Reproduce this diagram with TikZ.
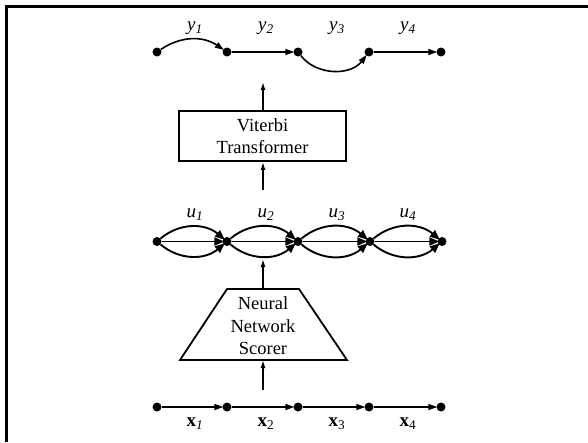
\documentclass[tikz,border=0pt]{standalone}
\usepackage{fontspec}
\setmainfont{Liberation Serif}
\usetikzlibrary{arrows.meta}
\tikzset{
  dot/.style={circle,fill=black,inner sep=0pt,minimum size=9pt},
  harr/.style={line width=1.6pt,-{Triangle[length=9pt,width=6pt]},shorten >=-1pt},
  uarr/.style={line width=1.9pt,-{Triangle[length=10pt,width=8pt]},shorten >=-2pt},
  varr/.style={line width=1.5pt,-{Latex[length=8pt,width=5pt]}},
  lbl/.style={font=\fontsize{19}{22}\selectfont,inner sep=0pt},
  boxtext/.style={font=\fontsize{18.5}{22.5}\selectfont,align=center,inner sep=0pt}
}
\begin{document}
\begin{tikzpicture}[x=1pt,y=1pt]
\useasboundingbox (0,0) rectangle (588,-442);
% frame
\draw[line width=3pt] (6.5,-442) -- (6.5,-6.5) -- (588,-6.5);

% output sequence y
\foreach \i/\x in {1/157,2/227,3/298,4/369,5/441}
  \node[dot] (t\i) at (\x,-52) {};
\draw[harr] (t1) to[bend left=34] (t2);
\draw[harr] (t2) -- (t3);
\draw[harr] (t3) to[bend right=52] (t4);
\draw[harr] (t4) -- (t5);
\node[lbl] (y1) at (195,-28) {\textit{y}\textsubscript{\textit{1}}};
\node[lbl] (y2) at (266,-28) {\textit{y}\textsubscript{\textit{2}}};
\node[lbl] (y3) at (337,-28) {\textit{y}\textsubscript{\textit{3}}};
\node[lbl] (y4) at (408,-28) {\textit{y}\textsubscript{\textit{4}}};

% Viterbi transformer
\node[draw,line width=1.8pt,minimum width=167pt,minimum height=50pt,inner sep=0pt] (vt) at (262.5,-136) {};
\node[boxtext] (vtext) at (262.5,-136) {Viterbi\\Transformer};
\coordinate (vtop) at (263,-82);
\coordinate (vbot) at (263,-190);
\draw[varr] (vt.north -| vtop) -- (vtop);
\draw[varr] (vbot) -- (vt.south -| vbot);

% scores u
\foreach \i/\x in {1/157,2/227,3/298,4/370,5/442}
  \node[dot] (m\i) at (\x,-241.5) {};
\foreach \a/\b in {1/2,2/3,3/4,4/5}{
  \draw[uarr] (m\a) to[bend left=40] (m\b);
  \draw[uarr] (m\a) -- (m\b);
  \draw[uarr] (m\a) to[bend right=40] (m\b);
}
\node[lbl] (u1) at (195,-215) {\textit{u}\textsubscript{\textit{1}}};
\node[lbl] (u2) at (266,-215) {\textit{u}\textsubscript{\textit{2}}};
\node[lbl] (u3) at (337,-215) {\textit{u}\textsubscript{\textit{3}}};
\node[lbl] (u4) at (408,-215) {\textit{u}\textsubscript{\textit{4}}};

% neural network scorer
\draw[line width=1.8pt,line join=miter] (180,-360) -- (227,-289) -- (299,-289) -- (347,-360) -- cycle;
\node[boxtext] (nns) at (263,-326) {Neural\\Network\\Scorer};
\coordinate (ntop) at (263,-289);
\coordinate (nbot) at (263,-360);
\coordinate (uin) at (263,-259);
\coordinate (xout) at (263,-390);
\draw[varr] (ntop) -- (uin);
\draw[varr] (xout) -- (nbot);

% input sequence x
\foreach \i/\x in {1/157,2/227,3/298,4/369,5/441}
  \node[dot] (b\i) at (\x,-407) {};
\foreach \a/\b in {1/2,2/3,3/4,4/5}
  \draw[harr] (b\a) -- (b\b);
\node[lbl] (x1) at (195,-424) {\textbf{x}\textsubscript{\textit{1}}};
\node[lbl] (x2) at (266,-424) {\textbf{x}\textsubscript{2}};
\node[lbl] (x3) at (337,-424) {\textbf{x}\textsubscript{3}};
\node[lbl] (x4) at (408,-424) {\textbf{x}\textsubscript{4}};
\end{tikzpicture}
\end{document}
